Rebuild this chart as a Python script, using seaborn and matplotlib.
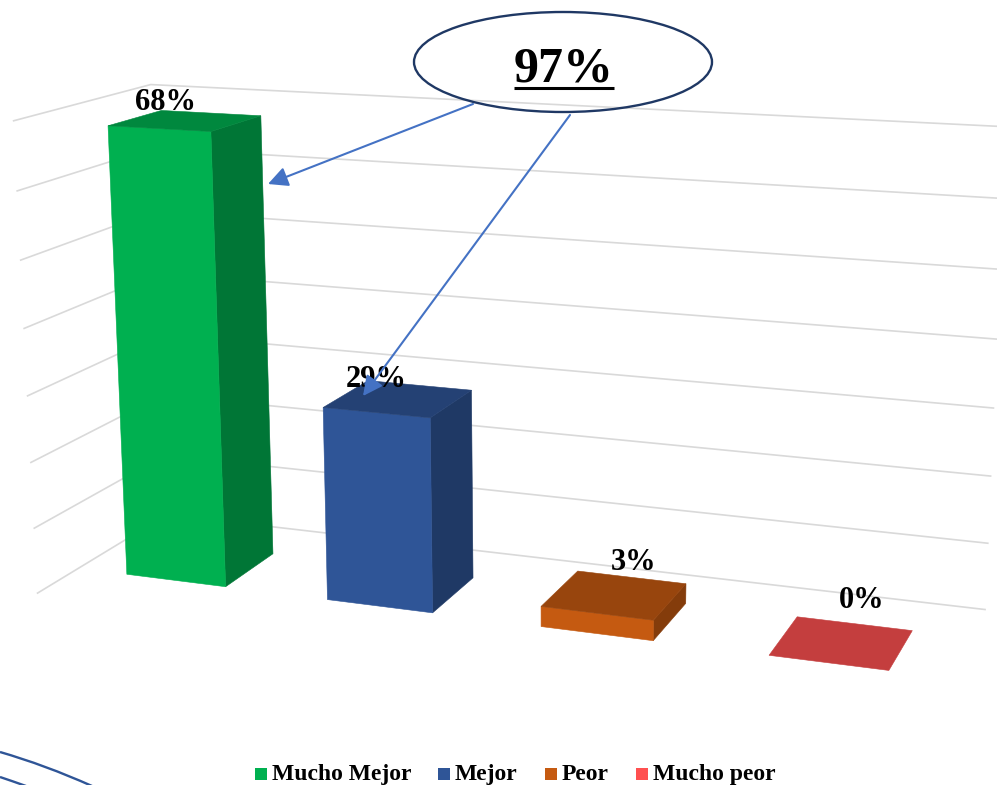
import numpy as np
import pandas as pd
import matplotlib
matplotlib.use("Agg")
import matplotlib.pyplot as plt
import matplotlib.colors as mcolors
from matplotlib.patches import Polygon, Ellipse, FancyArrowPatch, Rectangle, PathPatch
from matplotlib.path import Path
import seaborn as sns

# ---- data -------------------------------------------------------------
categories = ["Mucho Mejor", "Mejor", "Peor", "Mucho peor"]
values = [68, 29, 3, 0]                      # percent
grid_ticks = [0, 10, 20, 30, 40, 50, 60, 70]  # wall gridlines (percent)
total_label = "97%"                           # Mucho Mejor + Mejor
colors = ["#00B050", "#2F5597", "#C55A11", "#FF5050"]

df = pd.DataFrame({"categoria": categories, "valor": values, "color": colors})

# ---- 3-D scene layout (world units: bar width = 1, height in percent) --
BAR_STEP = 2.0          # gap width 100 %
BAR_WIDTH = 1.0
BAR_DEPTH = 1.0
FLOOR_X = (-0.5, len(categories) * BAR_STEP - 0.5)
FLOOR_Y = (-0.75, BAR_DEPTH + 0.75)          # gap depth 150 %

# perspective view matrix: world (x, depth, z%) -> canvas pixels
VIEW = np.array([
    [95.3196724, 57.5889788, -0.34313467, 126.852415],
    [3.52468551, -10.2200153, -6.6730709, 574.270762],
    [-0.0152322418, 0.0401597111, -0.000614595521, 1.0],
])


def to_screen(x, y, z):
    q = VIEW @ np.array([x, y, z, 1.0])
    return q[:2] / q[2]


def shade(color, f):
    r, g, b = mcolors.to_rgb(color)
    return (r * f, g * f, b * f)


# ---- figure -------------------------------------------------------------
sns.set_theme(style="white")
plt.rcParams["font.family"] = ["Liberation Serif", "DejaVu Serif"]
plt.rcParams["font.weight"] = "bold"

W_PX, H_PX = 997, 785
fig = plt.figure(figsize=(W_PX / 100, H_PX / 100), dpi=100)
ax = fig.add_axes([0, 0, 1, 1])
ax.set_xlim(0, W_PX)
ax.set_ylim(H_PX, 0)
ax.axis("off")

# walls: side wall and back wall gridlines
for z in grid_ticks:
    a = to_screen(FLOOR_X[0], FLOOR_Y[0], z)
    c = to_screen(FLOOR_X[0], FLOOR_Y[1], z)
    b = to_screen(FLOOR_X[1], FLOOR_Y[1], z)
    ax.plot([a[0], c[0], b[0]], [a[1], c[1], b[1]], color="#D9D9D9", lw=1.2,
            solid_capstyle="butt", zorder=1)

# 3-D columns: front, right side and top faces
label_offsets = [(-20, -11), (-22, -12), (19, -25), (20, -35)]
for i, row in df.iterrows():
    x0 = i * BAR_STEP
    x1 = x0 + BAR_WIDTH
    y0, y1 = 0.0, BAR_DEPTH
    h = row["valor"]
    faces = []
    if h > 0:
        faces.append(([(x1, y0, 0), (x1, y1, 0), (x1, y1, h), (x1, y0, h)], 0.67))
        faces.append(([(x0, y0, 0), (x1, y0, 0), (x1, y0, h), (x0, y0, h)], 1.0))
    faces.append(([(x0, y0, h), (x1, y0, h), (x1, y1, h), (x0, y1, h)], 0.77))
    for corners, f in faces:
        xy = np.array([to_screen(*p) for p in corners])
        col = shade(row["color"], f)
        ax.add_patch(Polygon(xy, closed=True, facecolor=col, edgecolor=col,
                             lw=0.4, zorder=2))
    top = to_screen(x0 + BAR_WIDTH / 2, y0 + BAR_DEPTH / 2, h)
    dx, dy = label_offsets[i]
    ax.text(top[0] + dx, top[1] + dy, f"{h}%", ha="center", va="baseline",
            fontsize=22, fontweight="bold", color="black", zorder=4)

# callout with the combined share
ax.add_patch(Ellipse((563, 62), 298, 100, facecolor="none",
                     edgecolor="#1F3864", lw=1.7, zorder=5))
t = ax.text(563.5, 82, total_label, ha="center", va="baseline", fontsize=36,
            fontweight="bold", color="black", zorder=6)
renderer = fig.canvas.get_renderer()
inv = ax.transData.inverted()


def text_width(artist):
    bb = artist.get_window_extent(renderer)
    (x0_, _), (x1_, _) = inv.transform([(bb.x0, bb.y0), (bb.x1, bb.y0)])
    return x0_, x1_


ux0, ux1 = text_width(t)
ax.plot([ux0, ux1], [88, 88], color="black", lw=2.2, solid_capstyle="butt",
        zorder=6)

arrow_kw = dict(arrowstyle="-|>,head_length=0.5,head_width=0.25",
                mutation_scale=24, color="#4472C4", lw=1.5, zorder=6,
                shrinkA=0, shrinkB=0)
ax.add_patch(FancyArrowPatch((473, 104), (268, 184), **arrow_kw))
ax.add_patch(FancyArrowPatch((570, 115), (363, 396), **arrow_kw))

# decorative outline pieces in the lower-left corner
for verts in ([(0, 752), (45, 765), (92, 786)], [(0, 777), (12, 781), (26, 786)]):
    ax.add_patch(PathPatch(Path(verts, [Path.MOVETO, Path.CURVE3, Path.CURVE3]),
                           facecolor="none", edgecolor="#2F5597", lw=1.7,
                           zorder=3))

# legend row: colour key + label, all on one shared baseline
LEG_CENTER, LEG_BASE = 515, 780
KEY, KEY_GAP, ITEM_GAP = 12, 5, 27
legend_texts = [ax.text(0, LEG_BASE, n, ha="left", va="baseline", fontsize=17,
                        fontweight="bold", color="black", zorder=6)
                for n in df["categoria"]]
widths = [np.diff(text_width(tx))[0] for tx in legend_texts]
total = sum(KEY + KEY_GAP + w for w in widths) + ITEM_GAP * (len(widths) - 1)
x = LEG_CENTER - total / 2
for tx, w, c in zip(legend_texts, widths, df["color"]):
    ax.add_patch(Rectangle((x, LEG_BASE - KEY), KEY, KEY, facecolor=c,
                           edgecolor="none", zorder=6))
    tx.set_x(x + KEY + KEY_GAP)
    x += KEY + KEY_GAP + w + ITEM_GAP

fig.savefig("out.png", dpi=100)
